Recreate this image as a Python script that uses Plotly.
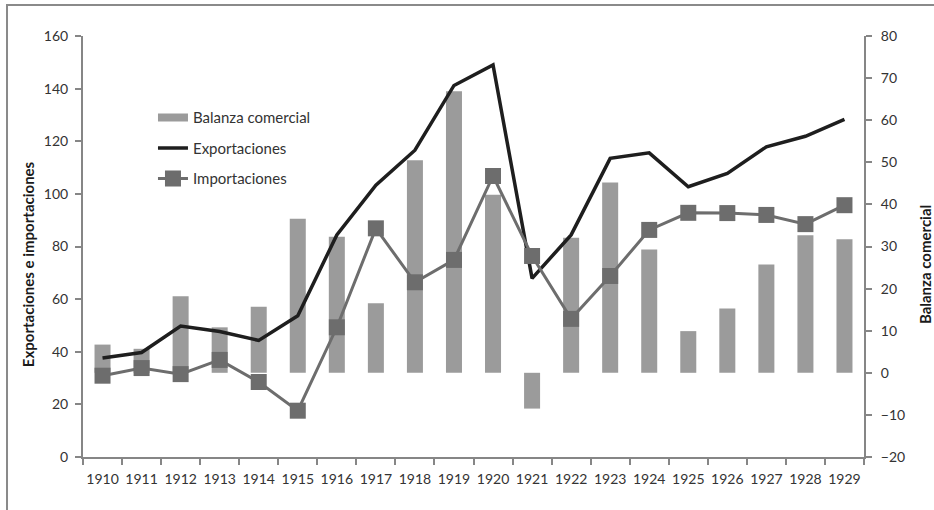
import plotly.graph_objects as go

years = ["1910", "1911", "1912", "1913", "1914", "1915", "1916", "1917", "1918", "1919",
         "1920", "1921", "1922", "1923", "1924", "1925", "1926", "1927", "1928", "1929"]
exportaciones = [37.6, 39.7, 49.8, 47.7, 44.3, 53.7, 84.4, 103.3, 116.6, 141.2,
                 149.0, 67.9, 84.4, 113.5, 115.6, 102.7, 107.8, 117.9, 121.9, 128.3]
importaciones = [30.9, 33.8, 31.5, 36.9, 28.5, 17.6, 49.3, 86.9, 66.4, 74.9,
                 106.8, 76.4, 52.5, 68.8, 86.3, 92.8, 92.7, 92.0, 88.5, 95.7]
balanza = [6.7, 5.7, 18.2, 10.8, 15.7, 36.6, 32.3, 16.5, 50.5, 66.9,
           42.3, -8.5, 32.1, 45.2, 29.3, 9.9, 15.3, 25.7, 32.7, 31.7]

FONT = "Lato"
TXT = "#333333"
AX = "#868686"
BAR = "#9b9b9b"
EXP = "#1e1e1e"
IMP = "#6d6d6d"

fig = go.Figure()

# Bars on primary (right-side) axis so the lines on the overlaying axis draw on top
fig.add_trace(go.Bar(x=years, y=balanza, name="Balanza comercial", marker_color=BAR,
                     marker_line_width=0, width=0.41, yaxis="y", showlegend=False))
# legend swatch for the bars (wide rectangle like the original)
fig.add_trace(go.Scatter(x=[years[0]], y=[None], mode="lines", name="Balanza comercial",
                         line=dict(color=BAR, width=8), yaxis="y2", legendgroup="a"))
fig.add_trace(go.Scatter(x=years, y=exportaciones, mode="lines", name="Exportaciones",
                         line=dict(color=EXP, width=3.5), yaxis="y2", legendgroup="b"))
fig.add_trace(go.Scatter(x=years, y=importaciones, mode="lines+markers", name="Importaciones",
                         line=dict(color=IMP, width=3),
                         marker=dict(symbol="square", size=16, color=IMP), yaxis="y2",
                         legendgroup="c"))

fig.update_layout(
    width=934, height=510,
    margin=dict(l=83, r=70, t=36, b=53),
    paper_bgcolor="white", plot_bgcolor="white",
    font=dict(family=FONT, size=14, color=TXT),
    bargap=0.5,
    showlegend=True,
    legend=dict(x=0.0896, y=0.845, xanchor="left", yanchor="top",
                bgcolor="rgba(0,0,0,0)", font=dict(size=15, color=TXT),
                tracegroupgap=8, traceorder="grouped"),
    xaxis=dict(type="category", categoryorder="array", categoryarray=years,
               range=[-0.5, len(years) - 0.5],
               showline=True, linecolor=AX, linewidth=2, automargin=False,
               ticks="outside", tickson="boundaries", ticklen=6, tickcolor=AX, tickwidth=2,
               ticklabelstandoff=8,
               tickangle=0, showgrid=False, zeroline=False, tickfont=dict(size=14, color=TXT)),
    yaxis=dict(side="right", range=[-20, 80], dtick=10, showline=True, linecolor=AX, linewidth=2,
               automargin=False, ticklabelstandoff=6,
               ticks="outside", ticklen=6, tickcolor=AX, tickwidth=2, showgrid=False, zeroline=False,
               tickfont=dict(size=14, color=TXT)),
    yaxis2=dict(side="left", overlaying="y", range=[0, 160], dtick=20, showline=True,
                automargin=False, ticklabelstandoff=4,
                linecolor=AX, linewidth=2, ticks="outside", ticklen=6, tickcolor=AX, tickwidth=2,
                showgrid=False, zeroline=False, tickfont=dict(size=14, color=TXT)),
    annotations=[
        dict(text="<b>Exportaciones e importaciones</b>", xref="paper", yref="paper",
             x=-0.0704, y=0.458, xanchor="center", yanchor="middle", textangle=-90,
             showarrow=False, font=dict(size=15, color="#1a1a1a")),
        dict(text="<b>Balanza comercial</b>", xref="paper", yref="paper",
             x=1.078, y=0.458, xanchor="center", yanchor="middle", textangle=-90,
             showarrow=False, font=dict(size=15, color="#1a1a1a")),
    ],
    shapes=[dict(type="rect", xref="paper", yref="paper", x0=-0.0973, x1=1.3, y0=-0.4, y1=1.0736,
                 line=dict(color="#8a8a8a", width=2), fillcolor="rgba(0,0,0,0)", layer="below")],
)

fig.write_html("out.html", config={"displayModeBar": False},
               post_script="document.body.style.margin='0';")
